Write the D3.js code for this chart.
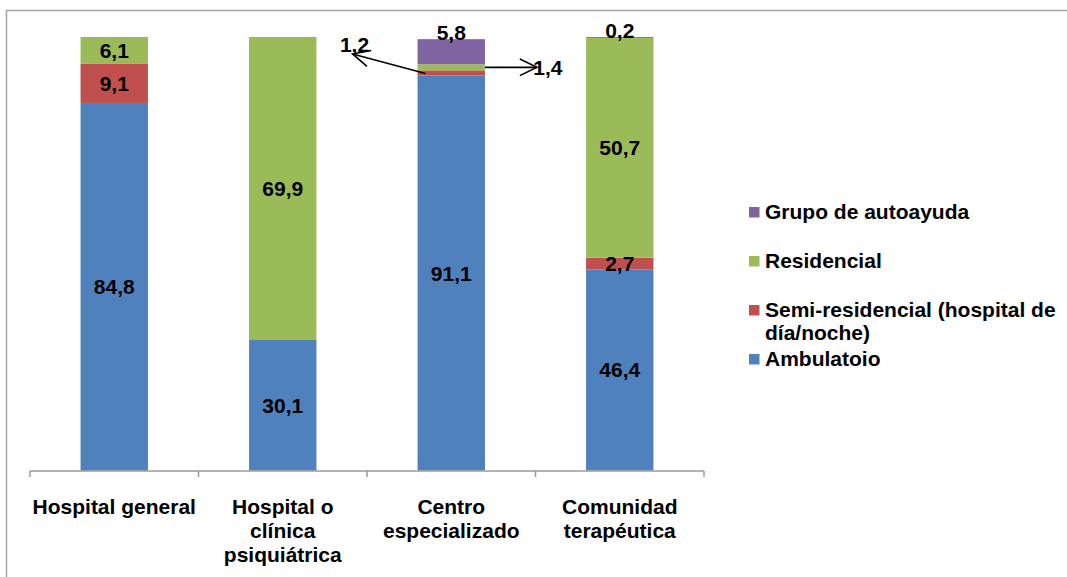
<!DOCTYPE html>
<html>
<head>
<meta charset="utf-8">
<script src="https://cdn.jsdelivr.net/npm/d3@7"></script>
<style>
  body { margin: 0; background: #fff; }
  svg { display: block; font-family: "Liberation Sans", Arial, sans-serif; font-weight: bold; }
</style>
</head>
<body>
<div id="chart"></div>
<script>
// categories (each one wraps onto several lines)
const categories = ['Hospital general', 'Hospital o clínica psiquiátrica', 'Centro especializado', 'Comunidad terapéutica'];
const catLines = [['Hospital general'], ['Hospital o', 'clínica', 'psiquiátrica'], ['Centro', 'especializado'], ['Comunidad', 'terapéutica']];

// series, bottom to top
const seriesNames = ['Ambulatoio', 'Semi-residencial (hospital de día/noche)', 'Residencial', 'Grupo de autoayuda'];
const ambulatorio = [84.8, 30.1, 91.1, 46.4];
const semiResidencial = [9.1, 0, 1.2, 2.7];
const residencial = [6.1, 69.9, 1.4, 50.7];
const autoayuda = [0, 0, 5.8, 0.2];
const colors = ['#4F81BD', '#C0504D', '#9BBB59', '#8064A2'];

const W = 1067, H = 577;
const FS = 21;
const svg = d3.select('#chart').append('svg').attr('width', W).attr('height', H);

// outer chart border
svg.append('rect')
    .attr('x', 6.5).attr('y', 10.5)
    .attr('width', W + 20).attr('height', H + 20)
    .attr('fill', 'none').attr('stroke', '#a6a6a6').attr('stroke-width', 1.5);

const rows = categories.map((c, i) => ({
    cat: c,
    vals: [ambulatorio[i], semiResidencial[i], residencial[i], autoayuda[i]]
}));

const xScale = d3.scaleBand().domain(categories).range([30, 704]);
const yScale = d3.scaleLinear().domain([0, 100]).range([470.5, 37]);
const barW = xScale.bandwidth() * 0.4;
const bx = (c) => xScale(c) + (xScale.bandwidth() - barW) / 2;

// stacked segments
rows.forEach((r) => {
    let base = 0;
    r.segs = r.vals.map((v, k) => {
        const s = {cat: r.cat, k: k, v: v, y0: base, y1: base + v};
        base += v;
        return s;
    });
});

const chart = svg.append('g');
chart.selectAll('.seg')
    .data(rows.flatMap((r) => r.segs).filter((s) => s.v > 0))
    .enter()
    .append('rect')
    .attr('class', 'seg')
    .attr('x', (d) => bx(d.cat))
    .attr('width', barW)
    .attr('y', (d) => yScale(d.y1))
    .attr('height', (d) => yScale(d.y0) - yScale(d.y1))
    .attr('fill', (d) => colors[d.k]);

// x axis
const xAxisG = svg.append('g').attr('transform', 'translate(0,471)');
xAxisG.append('line')
    .attr('x1', 30).attr('x2', 704)
    .attr('stroke', '#999').attr('stroke-width', 1.5);
xAxisG.selectAll('.tick')
    .data(categories.map((c) => xScale(c)).concat([704]))
    .enter()
    .append('line')
    .attr('x1', (d) => d).attr('x2', (d) => d)
    .attr('y1', 0).attr('y2', 6)
    .attr('stroke', '#999').attr('stroke-width', 1.5);

// category labels
categories.forEach((c, i) => {
    const t = svg.append('text')
        .attr('x', xScale(c) + xScale.bandwidth() / 2)
        .attr('y', 514)
        .attr('text-anchor', 'middle')
        .attr('font-size', FS)
        .attr('fill', '#000');
    catLines[i].forEach((ln, j) => {
        t.append('tspan')
            .attr('x', xScale(c) + xScale.bandwidth() / 2)
            .attr('dy', j === 0 ? 0 : 24)
            .text(ln);
    });
});

const fmt = (v) => String(v).replace('.', ',');
const labelG = svg.append('g').attr('font-size', FS).attr('text-anchor', 'middle').attr('fill', '#000');

// labels inside segments (big enough ones)
rows.flatMap((r) => r.segs)
    .filter((s) => s.v >= 2.5 && !(s.k === 3))
    .forEach((s) => {
        labelG.append('text')
            .attr('x', bx(s.cat) + barW / 2)
            .attr('y', (yScale(s.y0) + yScale(s.y1)) / 2 + 7.5)
            .text(fmt(s.v));
    });

// autoayuda labels sit at the top of the bar
rows.forEach((r) => {
    const s = r.segs[3];
    if (s.v > 0) {
        labelG.append('text')
            .attr('x', bx(s.cat) + barW / 2)
            .attr('y', yScale(s.y1) + 0.5)
            .text(fmt(s.v));
    }
});

// leader arrows for the thin segments of Centro especializado
const centro = rows[2].segs;
function arrow(x1, y1, x2, y2) {
    const ang = Math.atan2(y1 - y2, x1 - x2);
    const len = 19, spread = 0.45;
    const g = svg.append('g').attr('stroke', '#000').attr('stroke-width', 1.6).attr('fill', 'none');
    g.append('line').attr('x1', x1).attr('y1', y1).attr('x2', x2).attr('y2', y2);
    g.append('polyline').attr('points', [
        [x2 + len * Math.cos(ang + spread), y2 + len * Math.sin(ang + spread)],
        [x2, y2],
        [x2 + len * Math.cos(ang - spread), y2 + len * Math.sin(ang - spread)]
    ].map((p) => p.join(',')).join(' '));
}
const cx0 = bx(categories[2]);
const redMid = (yScale(centro[1].y0) + yScale(centro[1].y1)) / 2;
const greenMid = (yScale(centro[2].y0) + yScale(centro[2].y1)) / 2;
arrow(cx0 + 8, redMid + 0.5, cx0 - 65, redMid - 19);
labelG.append('text').attr('x', cx0 - 63).attr('y', redMid - 21).text(fmt(centro[1].v));
arrow(cx0 + barW, greenMid, cx0 + barW + 52, greenMid);
labelG.append('text').attr('x', cx0 + barW + 63).attr('y', greenMid + 8).text(fmt(centro[2].v));

// legend (top entry first)
const legendY = [212, 261, 310, 359];
const legendLines = [['Grupo de autoayuda'], ['Residencial'], ['Semi-residencial (hospital de', 'día/noche)'], ['Ambulatoio']];
const legendColors = [colors[3], colors[2], colors[1], colors[0]];
const legend = svg.append('g').attr('font-size', FS).attr('fill', '#000');
legendLines.forEach((lines, i) => {
    legend.append('rect')
        .attr('x', 749).attr('y', legendY[i] - 5)
        .attr('width', 10.5).attr('height', 10.5)
        .attr('fill', legendColors[i]);
    const t = legend.append('text').attr('x', 765).attr('y', legendY[i] + 7);
    lines.forEach((ln, j) => {
        t.append('tspan').attr('x', 765).attr('dy', j === 0 ? 0 : 23).text(ln);
    });
});
</script>
</body>
</html>
